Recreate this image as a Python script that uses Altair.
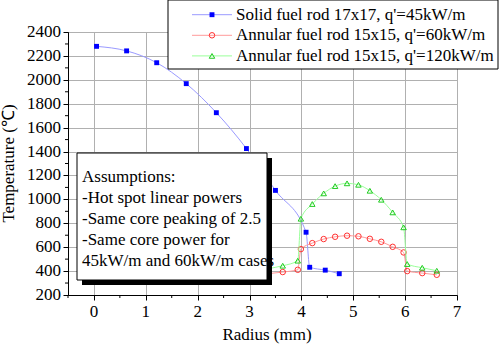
import altair as alt
import pandas as pd

# ---------------- data ----------------
radius_solid = [0.05, 0.63, 1.21, 1.78, 2.36, 2.94, 3.50, 4.09, 4.16, 4.46, 4.73]
temp_solid = [2280, 2242, 2143, 1968, 1725, 1425, 1075, 725, 432, 408, 378]

radius_annular = [3.35, 3.64, 3.93, 3.99, 4.21, 4.43, 4.65, 4.88, 5.10, 5.32,
                  5.54, 5.76, 5.97, 6.04, 6.33, 6.61]
temp_annular_60 = [378, 392, 411, 584, 634, 668, 687, 696, 691, 670,
                   645, 603, 556, 400, 383, 369]
temp_annular_120 = [420, 445, 487, 838, 961, 1050, 1111, 1134, 1122, 1072,
                    997, 891, 766, 459, 428, 403]

series_names = [
    "Solid fuel rod 17x17, q'=45kW/m",
    "Annular fuel rod 15x15, q'=60kW/m",
    "Annular fuel rod 15x15, q'=120kW/m",
]
x_title = "Radius (mm)"
y_title = "Temperature (℃)"
x_ticks = [0, 1, 2, 3, 4, 5, 6, 7]
x_minor = [-0.5, 0.5, 1.5, 2.5, 3.5, 4.5, 5.5, 6.5]
y_ticks = [200, 400, 600, 800, 1000, 1200, 1400, 1600, 1800, 2000, 2200, 2400]
y_minor = [300, 500, 700, 900, 1100, 1300, 1500, 1700, 1900, 2100, 2300]
notes = [
    "Assumptions:",
    "-Hot spot linear powers",
    "-Same core peaking of 2.5",
    "-Same core power for",
    "\u00a045kW/m and 60kW/m cases",
]

# ---------------- styling ----------------
FONT = "Liberation Serif"
FS = 17
W, H = 389, 263
line_colors = ["#9a9aff", "#ff9a9a", "#9aff9a"]
mark_colors = ["#0000ff", "#ff3333", "#22cc22"]
shapes = ["square", "circle", "triangle-up"]

df_solid = pd.DataFrame({"r": radius_solid, "t": temp_solid})
df_60 = pd.DataFrame({"r": radius_annular, "t": temp_annular_60})
df_120 = pd.DataFrame({"r": radius_annular, "t": temp_annular_120})

xs = alt.Scale(domain=[-0.5, 7], nice=False, zero=False)
ys = alt.Scale(domain=[200, 2400], nice=False, zero=False)

x_axis = alt.Axis(values=x_ticks, title=None, grid=True, tickSize=5, labels=False)
y_axis = alt.Axis(values=y_ticks, title=None, grid=True, tickSize=5, labels=False)

X = alt.X("r:Q", scale=xs, axis=x_axis)
Y = alt.Y("t:Q", scale=ys, axis=y_axis)


def series(df, i):
    ln = alt.Chart(df).mark_line(color=line_colors[i], strokeWidth=1,
                                 interpolate="monotone").encode(x=X, y=Y)
    if i == 0:
        pt = alt.Chart(df).mark_point(shape=shapes[i], filled=True, color=mark_colors[i],
                                      size=24, opacity=1).encode(x=X, y=Y)
    else:
        pt = alt.Chart(df).mark_point(shape=shapes[i], filled=False, color=mark_colors[i],
                                      size=30, strokeWidth=1, opacity=1).encode(x=X, y=Y)
    return [ln, pt]


data_layers = series(df_solid, 0) + series(df_60, 1) + series(df_120, 2)

# ---------------- minor ticks (short rules on the shared scales) ----------------
minor_x = alt.Chart(pd.DataFrame({"r": x_minor})).mark_rule(color="black", strokeWidth=1).encode(
    x=X, y=alt.value(H), y2=alt.value(H + 3))
minor_y = alt.Chart(pd.DataFrame({"t": y_minor})).mark_rule(color="black", strokeWidth=1).encode(
    y=Y, x=alt.value(-3), x2=alt.value(0))

# ---------------- tick labels and titles as serif text ----------------
x_labels = alt.Chart(pd.DataFrame({"r": x_ticks})).mark_text(
    font=FONT, fontSize=FS, align="center", baseline="middle", color="black").encode(
    x=X, y=alt.value(H + 17), text=alt.Text("r:Q", format="d"))
y_labels = alt.Chart(pd.DataFrame({"t": y_ticks})).mark_text(
    font=FONT, fontSize=FS, align="right", baseline="middle", color="black").encode(
    y=Y, x=alt.value(-7), text=alt.Text("t:Q", format="d"))
x_title_layer = alt.Chart(alt.Data(values=[{"s": x_title}])).mark_text(
    font=FONT, fontSize=FS, align="center", baseline="middle", color="black").encode(
    x=alt.value(199), y=alt.value(H + 40), text="s:N")
y_title_layer = alt.Chart(alt.Data(values=[{"s": y_title}])).mark_text(
    font=FONT, fontSize=FS, align="center", baseline="middle", color="black", angle=270).encode(
    x=alt.value(-59), y=alt.value(H / 2), text="s:N")

# ---------------- assumptions box ----------------
one = alt.Data(values=[{"k": 1}])
shadow = alt.Chart(one).mark_rect(color="black").encode(
    x=alt.value(14), x2=alt.value(204), y=alt.value(126), y2=alt.value(253))
box = alt.Chart(one).mark_rect(fill="white", stroke="black", strokeWidth=1).encode(
    x=alt.value(9), x2=alt.value(199), y=alt.value(121), y2=alt.value(248))
note_layers = []
for i, n in enumerate(notes):
    note_layers.append(
        alt.Chart(alt.Data(values=[{"txt": n}])).mark_text(
            font=FONT, fontSize=FS, align="left", baseline="middle", color="black"
        ).encode(x=alt.value(14), y=alt.value(145 + 21 * i), text="txt:N"))

# ---------------- legend ----------------
leg_box = alt.Chart(one).mark_rect(fill="white", stroke="black", strokeWidth=1).encode(
    x=alt.value(100), x2=alt.value(430), y=alt.value(-32), y2=alt.value(37))
leg_layers = []
for i, n in enumerate(series_names):
    yy = -17.3 + 20.6 * i
    d = alt.Data(values=[{"name": n}])
    leg_layers.append(alt.Chart(d).mark_rule(color=line_colors[i], strokeWidth=1).encode(
        x=alt.value(124), x2=alt.value(164), y=alt.value(yy)))
    if i == 0:
        leg_layers.append(alt.Chart(d).mark_point(shape=shapes[i], filled=True,
                                                  color=mark_colors[i], size=24, opacity=1
                                                  ).encode(x=alt.value(144), y=alt.value(yy)))
    else:
        leg_layers.append(alt.Chart(d).mark_point(shape=shapes[i], filled=False,
                                                  color=mark_colors[i], size=30, strokeWidth=1,
                                                  opacity=1
                                                  ).encode(x=alt.value(144), y=alt.value(yy)))
    leg_layers.append(alt.Chart(d).mark_text(font=FONT, fontSize=FS, align="left",
                                             baseline="middle", color="black").encode(
        x=alt.value(168), y=alt.value(yy), text="name:N"))

chart = alt.layer(*data_layers, minor_x, minor_y, x_labels, y_labels, x_title_layer,
                  y_title_layer, shadow, box, *note_layers,
                  leg_box, *leg_layers).properties(
    width=W, height=H,
    padding={"left": 68, "top": 32, "right": 43, "bottom": 51},
    autosize=alt.AutoSizeParams(type="none"),
).configure_view(stroke="black", strokeWidth=1).configure_axis(
    domainColor="black", tickColor="black",
    gridColor="#b0b0b0", gridWidth=1, domainWidth=1, tickWidth=1
)

chart.save("out.html", embed_options={"renderer": "svg", "actions": False})
